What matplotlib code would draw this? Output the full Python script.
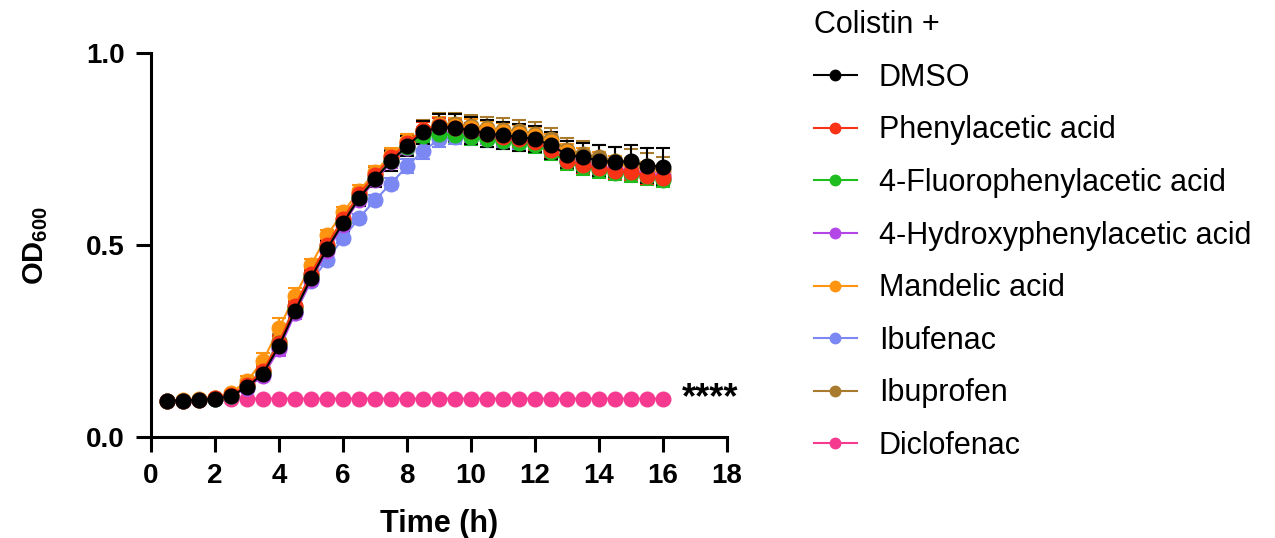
import matplotlib
matplotlib.use('Agg')
import matplotlib.pyplot as plt
from matplotlib.lines import Line2D

plt.rcParams['font.family'] = ['Liberation Sans', 'DejaVu Sans']
plt.rcParams['mathtext.fontset'] = 'custom'
plt.rcParams['mathtext.rm'] = 'Liberation Sans'
plt.rcParams['mathtext.bf'] = 'Liberation Sans:bold'

# time points (h)
time_h = [0.5, 1.0, 1.5, 2.0, 2.5, 3.0, 3.5, 4.0, 4.5, 5.0, 5.5, 6.0, 6.5, 7.0, 7.5, 8.0,
          8.5, 9.0, 9.5, 10.0, 10.5, 11.0, 11.5, 12.0, 12.5, 13.0, 13.5, 14.0, 14.5, 15.0, 15.5, 16.0]

dmso = [0.095, 0.095, 0.097, 0.100, 0.107, 0.130, 0.165, 0.237, 0.328, 0.414, 0.490, 0.557,
        0.622, 0.672, 0.719, 0.758, 0.794, 0.807, 0.805, 0.798, 0.790, 0.786, 0.781, 0.776,
        0.760, 0.735, 0.728, 0.720, 0.716, 0.718, 0.707, 0.704]
phenylacetic = [0.095, 0.095, 0.097, 0.101, 0.110, 0.135, 0.172, 0.245, 0.340, 0.425, 0.500, 0.568,
                0.632, 0.682, 0.728, 0.765, 0.800, 0.810, 0.805, 0.797, 0.790, 0.782, 0.775, 0.768,
                0.748, 0.720, 0.708, 0.700, 0.693, 0.690, 0.680, 0.675]
fluoro = [0.095, 0.095, 0.097, 0.100, 0.108, 0.132, 0.168, 0.245, 0.335, 0.420, 0.495, 0.560,
          0.625, 0.675, 0.720, 0.755, 0.785, 0.790, 0.787, 0.780, 0.775, 0.770, 0.765, 0.760,
          0.742, 0.715, 0.703, 0.695, 0.688, 0.685, 0.677, 0.670]
hydroxy = [0.095, 0.095, 0.097, 0.100, 0.107, 0.128, 0.160, 0.228, 0.322, 0.408, 0.485, 0.552,
           0.618, 0.668, 0.715, 0.752, 0.788, 0.795, 0.792, 0.787, 0.782, 0.778, 0.772, 0.766,
           0.750, 0.722, 0.712, 0.704, 0.698, 0.694, 0.686, 0.680]
mandelic = [0.095, 0.096, 0.098, 0.102, 0.115, 0.146, 0.198, 0.284, 0.367, 0.448, 0.525, 0.585,
            0.640, 0.690, 0.735, 0.770, 0.800, 0.812, 0.810, 0.805, 0.800, 0.795, 0.790, 0.784,
            0.768, 0.742, 0.730, 0.720, 0.710, 0.704, 0.695, 0.686]
ibufenac = [0.095, 0.095, 0.097, 0.100, 0.107, 0.128, 0.162, 0.232, 0.322, 0.405, 0.461, 0.518,
            0.570, 0.617, 0.660, 0.705, 0.745, 0.775, 0.782, 0.780, 0.776, 0.772, 0.768, 0.762,
            0.745, 0.718, 0.706, 0.698, 0.692, 0.688, 0.680, 0.672]
ibuprofen = [0.095, 0.095, 0.097, 0.101, 0.110, 0.135, 0.175, 0.250, 0.340, 0.425, 0.500, 0.568,
             0.632, 0.685, 0.730, 0.768, 0.800, 0.815, 0.815, 0.810, 0.805, 0.800, 0.796, 0.790,
             0.775, 0.748, 0.738, 0.728, 0.720, 0.716, 0.705, 0.695]
diclofenac = [0.095, 0.095, 0.097, 0.099, 0.100, 0.100, 0.100, 0.100, 0.100, 0.100, 0.100, 0.100,
              0.100, 0.100, 0.100, 0.100, 0.100, 0.100, 0.100, 0.100, 0.100, 0.100, 0.100, 0.100,
              0.100, 0.100, 0.100, 0.100, 0.100, 0.100, 0.100, 0.100]

# error bars (SD)
err_dmso = [0.003, 0.003, 0.003, 0.004, 0.005, 0.008, 0.010, 0.015, 0.018, 0.018, 0.020, 0.020,
            0.020, 0.022, 0.025, 0.025, 0.030, 0.035, 0.035, 0.035, 0.035, 0.035, 0.035, 0.035,
            0.035, 0.035, 0.038, 0.040, 0.040, 0.042, 0.045, 0.048]
err_mandelic = [0.003, 0.003, 0.003, 0.004, 0.006, 0.012, 0.022, 0.025, 0.020, 0.015, 0.015, 0.015,
                0.015, 0.015, 0.018, 0.020, 0.020, 0.022, 0.022, 0.022, 0.022, 0.022, 0.022, 0.022,
                0.022, 0.022, 0.022, 0.022, 0.022, 0.022, 0.022, 0.022]
err_other = [0.003, 0.003, 0.003, 0.004, 0.005, 0.008, 0.012, 0.018, 0.015, 0.012, 0.012, 0.012,
             0.012, 0.012, 0.015, 0.018, 0.020, 0.020, 0.020, 0.020, 0.020, 0.020, 0.020, 0.020,
             0.020, 0.020, 0.020, 0.020, 0.020, 0.020, 0.020, 0.020]
err_brown = [0.003, 0.003, 0.003, 0.004, 0.005, 0.008, 0.012, 0.018, 0.015, 0.012, 0.012, 0.015,
             0.015, 0.018, 0.020, 0.022, 0.025, 0.028, 0.028, 0.028, 0.028, 0.030, 0.030, 0.030,
             0.030, 0.030, 0.032, 0.032, 0.035, 0.035, 0.035, 0.035]
err_pink = [0.002, 0.002, 0.002, 0.002, 0.002, 0.002, 0.002, 0.002, 0.002, 0.002, 0.002, 0.002,
            0.002, 0.002, 0.002, 0.002, 0.002, 0.002, 0.002, 0.002, 0.002, 0.002, 0.002, 0.002,
            0.002, 0.002, 0.002, 0.002, 0.002, 0.002, 0.002, 0.002]

labels = ['DMSO', 'Phenylacetic acid', '4-Fluorophenylacetic acid', '4-Hydroxyphenylacetic acid',
          'Mandelic acid', 'Ibufenac', 'Ibuprofen', 'Diclofenac']
series = [dmso, phenylacetic, fluoro, hydroxy, mandelic, ibufenac, ibuprofen, diclofenac]
errors = [err_dmso, err_other, err_other, err_other, err_mandelic, err_other, err_brown, err_pink]
colors = ['#000000', '#fa3216', '#1fbe1f', '#b445e6', '#ff9410', '#7b87f2', '#a87b2e', '#f53a90']

fig = plt.figure(figsize=(12.75, 5.38), dpi=100)
ax = fig.add_axes([151 / 1275, 1 - 437 / 538, 576 / 1275, 384 / 538])

# draw last series first so DMSO sits on top
for y, e, c in reversed(list(zip(series, errors, colors))):
    ax.errorbar(time_h, y, yerr=e, color=c, ecolor=c, marker='o', markersize=10.5,
                linewidth=1.5, elinewidth=1.5, capsize=5, capthick=1.5, clip_on=False)

ax.text(16.6, 0.1, '****', fontsize=26, fontweight='bold', va='center', ha='left')

ax.set_xlim(0, 18)
ax.set_ylim(0, 1.0)
ax.set_xticks(range(0, 19, 2))
ax.set_yticks([0.0, 0.5, 1.0])
ax.set_yticklabels(['0.0', '0.5', '1.0'])
for lab in ax.get_xticklabels() + ax.get_yticklabels():
    lab.set_fontweight('bold')
ax.tick_params(labelsize=20, length=11, width=2.2, pad=8)
for side in ['top', 'right']:
    ax.spines[side].set_visible(False)
for side in ['left', 'bottom']:
    ax.spines[side].set_linewidth(2.2)

ax.set_xlabel('Time (h)', fontsize=22, fontweight='bold', labelpad=14)
ax.set_ylabel(r'$\mathbf{OD}_{\mathbf{600}}$', fontsize=21, labelpad=26)

handles = [Line2D([], [], color=c, marker='o', markersize=7.5, linewidth=1.5) for c in colors]
fig.legend(handles, labels, title='Colistin +', loc='upper left', bbox_to_anchor=(814 / 1275, 0.981),
           frameon=False, fontsize=22, title_fontsize=22, handlelength=1.4, handletextpad=0.72,
           labelspacing=0.74, borderpad=0, borderaxespad=0, alignment='left')

fig.savefig('out.png', dpi=100)
